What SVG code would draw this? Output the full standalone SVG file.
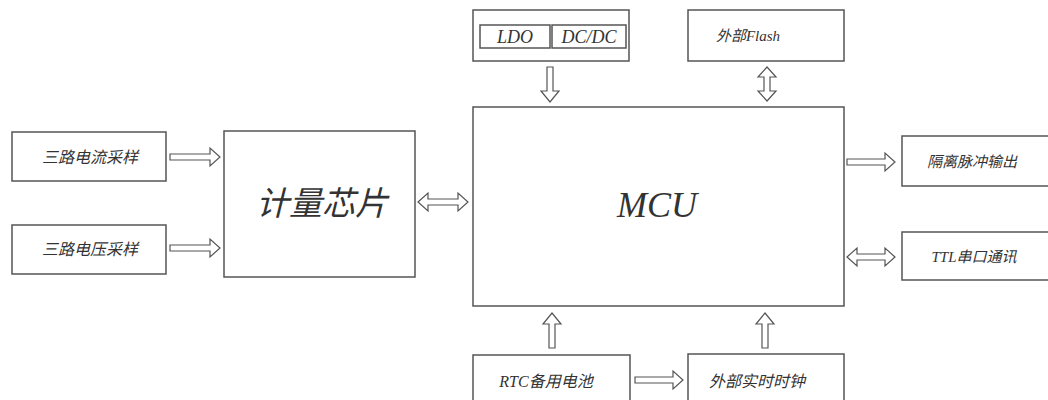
<svg xmlns="http://www.w3.org/2000/svg" width="1048" height="400" viewBox="0 0 1048 400">
<style>
.box{fill:#fff;stroke:#555;stroke-width:1.5}
.arr{fill:#fff;stroke:#555;stroke-width:1.2;stroke-linejoin:miter}
.t{font-family:"Liberation Serif","Noto Sans CJK SC",serif;font-style:italic;fill:#333;text-anchor:middle;dominant-baseline:central}
.s{font-size:16px}
.r{font-size:15px}
</style>
<rect width="1048" height="400" fill="#fff"/>
<g id="connectors">
<path class="arr" d="M170,154 H210 V148 L220,157 L210,166 V160 H170 Z"/>
<path class="arr" d="M170,245 H210 V239 L220,248 L210,257 V251 H170 Z"/>
<path class="arr" d="M418,202 L428,193 V199 H458 V193 L468,202 L458,211 V205 H428 V211 Z"/>
<path class="arr" d="M847,159 H885 V153 L895,162 L885,171 V165 H847 Z"/>
<path class="arr" d="M847,257 L857,248 V254 H885 V248 L895,257 L885,266 V260 H857 V266 Z"/>
<path class="arr" d="M547,67 V91 H541 L550,102 L559,91 H553 V67 Z"/>
<path class="arr" d="M767,67 L776,77 H770 V91 H776 L767,101 L758,91 H764 V77 H758 Z"/>
<path class="arr" d="M549,348 V324 H543 L552,313 L561,324 H555 V348 Z"/>
<path class="arr" d="M762,348 V324 H756 L765,313 L774,324 H768 V348 Z"/>
<path class="arr" d="M635,377 H673 V371 L683,380 L673,389 V383 H635 Z"/>
</g>
<g id="power">
<rect class="box" x="473" y="10" width="156" height="51"/>
<rect class="box" x="480" y="25" width="70" height="23"/>
<rect class="box" x="552" y="25" width="74" height="23"/>
<text class="t" x="515" y="37" font-size="18">LDO</text>
<text class="t" x="589" y="37" font-size="18">DC/DC</text>
</g>
<g id="flash">
<rect class="box" x="688" y="10" width="156" height="51"/>
<text class="t r" x="748" y="36">外部Flash</text>
</g>
<g id="current">
<rect class="box" x="12" y="132" width="154" height="49"/>
<text class="t s" x="90" y="157">三路电流采样</text>
</g>
<g id="voltage">
<rect class="box" x="12" y="225" width="154" height="49"/>
<text class="t s" x="90" y="249">三路电压采样</text>
</g>
<g id="meter">
<rect class="box" x="224" y="131" width="191" height="146"/>
<text class="t" x="322" y="204" font-size="33">计量芯片</text>
</g>
<g id="mcu">
<rect class="box" x="473" y="107" width="371" height="199"/>
<text class="t" x="657" y="205" font-size="36" fill="#222">MCU</text>
</g>
<g id="pulse">
<rect class="box" x="902" y="136" width="150" height="50"/>
<text class="t r" x="972" y="162">隔离脉冲输出</text>
</g>
<g id="ttl">
<rect class="box" x="902" y="232" width="150" height="48"/>
<text class="t r" x="974" y="257">TTL串口通讯</text>
</g>
<g id="rtcbat">
<rect class="box" x="473" y="355" width="157" height="50"/>
<text class="t s" x="546" y="381">RTC备用电池</text>
</g>
<g id="rtc">
<rect class="box" x="688" y="354" width="156" height="51"/>
<text class="t s" x="757" y="381">外部实时时钟</text>
</g>
</svg>
